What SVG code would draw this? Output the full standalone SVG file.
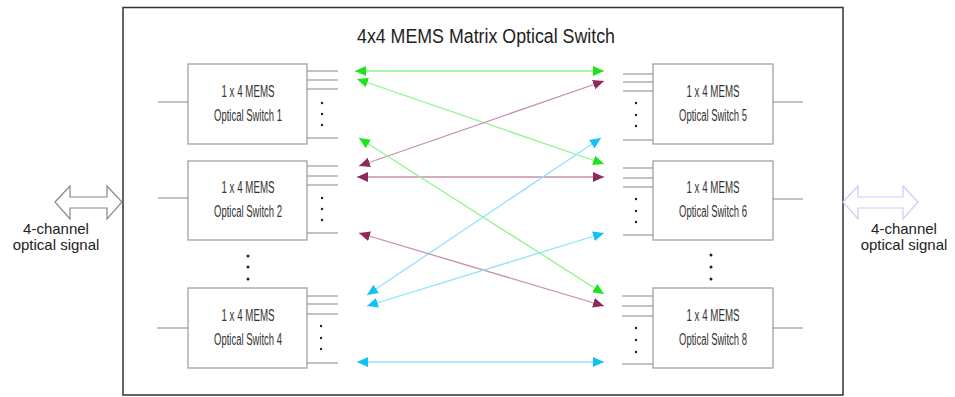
<svg xmlns="http://www.w3.org/2000/svg" width="955" height="397" viewBox="0 0 955 397">
<style>
.frame{fill:#fff;stroke:#333;stroke-width:1.5}
.box{fill:#fff;stroke:#999;stroke-width:1.2}
.ln{stroke:#888;stroke-width:1.2;fill:none}
.lbl{font-family:"Liberation Sans",Arial,sans-serif;font-size:16px;fill:#333;text-anchor:middle}
.side{font-family:"Liberation Sans",Arial,sans-serif;font-size:15px;fill:#222;text-anchor:middle}
.title{font-family:"Liberation Sans",Arial,sans-serif;font-size:20px;fill:#222;text-anchor:middle}
.dot{fill:#222}
.g{stroke:#8cf58c;stroke-width:1.3;fill:none}
.m{stroke:#c890ac;stroke-width:1.3;fill:none}
.c{stroke:#8ee3ff;stroke-width:1.3;fill:none}
</style>
<defs>
<marker id="ag" viewBox="0 0 10 9" refX="10" refY="4.5" markerWidth="11" markerHeight="10" markerUnits="userSpaceOnUse" orient="auto-start-reverse"><path d="M0,0 L10,4.5 L0,9 z" fill="#19e619"/></marker>
<marker id="am" viewBox="0 0 10 9" refX="10" refY="4.5" markerWidth="11" markerHeight="10" markerUnits="userSpaceOnUse" orient="auto-start-reverse"><path d="M0,0 L10,4.5 L0,9 z" fill="#8c2a5c"/></marker>
<marker id="ac" viewBox="0 0 10 9" refX="10" refY="4.5" markerWidth="11" markerHeight="10" markerUnits="userSpaceOnUse" orient="auto-start-reverse"><path d="M0,0 L10,4.5 L0,9 z" fill="#12c0f5"/></marker>
</defs>
<rect width="955" height="397" fill="#fff"/>
<rect class="frame" x="123" y="7.5" width="720" height="387.5"/>
<text class="title" x="486" y="43" textLength="258" lengthAdjust="spacingAndGlyphs">4x4 MEMS Matrix Optical Switch</text>

<g id="side-left">
<polygon points="55,202 70,186 70,197 107,197 107,186 122,202 107,219 107,208 70,208 70,219" fill="#fff" stroke="#888" stroke-width="1.2"/>
<text class="side" x="56" y="234">4-channel</text>
<text class="side" x="56" y="250">optical signal</text>
</g>
<g id="side-right">
<polygon points="843,202 858,186 858,197 903,197 903,186 918,202 903,219 903,208 858,208 858,219" fill="#fff" stroke="#d6c6f6" stroke-width="1.2"/>
<text class="side" x="904" y="234">4-channel</text>
<text class="side" x="904" y="250">optical signal</text>
</g>

<g id="sw1">
<rect class="box" x="188" y="64" width="119" height="80"/>
<path class="ln" d="M158,102H188M307,71H338M307,80H338M307,89H338M307,138H338"/>
<circle class="dot" cx="322" cy="103" r="1.2"/><circle class="dot" cx="322" cy="114" r="1.2"/><circle class="dot" cx="322" cy="125" r="1.2"/>
<text class="lbl" x="248" y="97" textLength="53" lengthAdjust="spacingAndGlyphs">1 x 4 MEMS</text>
<text class="lbl" x="248" y="121" textLength="68" lengthAdjust="spacingAndGlyphs">Optical Switch 1</text>
</g>
<g id="sw2">
<rect class="box" x="188" y="161" width="119" height="79"/>
<path class="ln" d="M158,198H188M307,166H338M307,176H338M307,185H338M307,233H338"/>
<circle class="dot" cx="322" cy="198" r="1.2"/><circle class="dot" cx="322" cy="209" r="1.2"/><circle class="dot" cx="322" cy="220" r="1.2"/>
<text class="lbl" x="248" y="193" textLength="53" lengthAdjust="spacingAndGlyphs">1 x 4 MEMS</text>
<text class="lbl" x="248" y="217" textLength="68" lengthAdjust="spacingAndGlyphs">Optical Switch 2</text>
</g>
<g id="dots-left">
<circle class="dot" cx="248" cy="256" r="1.5"/><circle class="dot" cx="248" cy="267" r="1.5"/><circle class="dot" cx="248" cy="279" r="1.5"/>
</g>
<g id="sw4">
<rect class="box" x="188" y="288" width="119" height="80"/>
<path class="ln" d="M157,328H188M307,296H338M307,304H338M307,314H338M307,363H338"/>
<circle class="dot" cx="321" cy="326" r="1.2"/><circle class="dot" cx="321" cy="338" r="1.2"/><circle class="dot" cx="321" cy="349" r="1.2"/>
<text class="lbl" x="248" y="321" textLength="53" lengthAdjust="spacingAndGlyphs">1 x 4 MEMS</text>
<text class="lbl" x="248" y="345" textLength="68" lengthAdjust="spacingAndGlyphs">Optical Switch 4</text>
</g>

<g id="sw5">
<rect class="box" x="653" y="64" width="120" height="80"/>
<path class="ln" d="M773,102H803M623,74H653M623,82H653M623,91H653M623,140H653"/>
<circle class="dot" cx="636" cy="103" r="1.2"/><circle class="dot" cx="636" cy="115" r="1.2"/><circle class="dot" cx="636" cy="126" r="1.2"/>
<text class="lbl" x="713" y="97" textLength="53" lengthAdjust="spacingAndGlyphs">1 x 4 MEMS</text>
<text class="lbl" x="713" y="121" textLength="68" lengthAdjust="spacingAndGlyphs">Optical Switch 5</text>
</g>
<g id="sw6">
<rect class="box" x="653" y="161" width="120" height="79"/>
<path class="ln" d="M773,199H803M623,168H653M623,178H653M623,187H653M623,235H653"/>
<circle class="dot" cx="636" cy="199" r="1.2"/><circle class="dot" cx="636" cy="211" r="1.2"/><circle class="dot" cx="636" cy="222" r="1.2"/>
<text class="lbl" x="713" y="193" textLength="53" lengthAdjust="spacingAndGlyphs">1 x 4 MEMS</text>
<text class="lbl" x="713" y="217" textLength="68" lengthAdjust="spacingAndGlyphs">Optical Switch 6</text>
</g>
<g id="dots-right">
<circle class="dot" cx="711" cy="255" r="1.5"/><circle class="dot" cx="711" cy="267" r="1.5"/><circle class="dot" cx="711" cy="279" r="1.5"/>
</g>
<g id="sw8">
<rect class="box" x="653" y="288" width="120" height="80"/>
<path class="ln" d="M773,328H803M622,296H653M622,306H653M622,316H653M622,364H653"/>
<circle class="dot" cx="636" cy="328" r="1.2"/><circle class="dot" cx="636" cy="340" r="1.2"/><circle class="dot" cx="636" cy="352" r="1.2"/>
<text class="lbl" x="713" y="321" textLength="53" lengthAdjust="spacingAndGlyphs">1 x 4 MEMS</text>
<text class="lbl" x="713" y="345" textLength="68" lengthAdjust="spacingAndGlyphs">Optical Switch 8</text>
</g>

<g id="connectors">
<line class="g" x1="355" y1="71" x2="604" y2="71" marker-start="url(#ag)" marker-end="url(#ag)"/>
<line class="g" x1="357" y1="79" x2="604" y2="164" marker-start="url(#ag)" marker-end="url(#ag)"/>
<line class="m" x1="359" y1="166" x2="604" y2="81" marker-start="url(#am)" marker-end="url(#am)"/>
<line class="m" x1="357" y1="177" x2="604" y2="177" marker-start="url(#am)" marker-end="url(#am)"/>
<line class="g" x1="359" y1="138" x2="604" y2="294" marker-start="url(#ag)" marker-end="url(#ag)"/>
<line class="c" x1="367" y1="295" x2="601" y2="138" marker-start="url(#ac)" marker-end="url(#ac)"/>
<line class="m" x1="359" y1="233" x2="604" y2="306" marker-start="url(#am)" marker-end="url(#am)"/>
<line class="c" x1="367" y1="306" x2="604" y2="233" marker-start="url(#ac)" marker-end="url(#ac)"/>
<line class="c" x1="357" y1="362" x2="604" y2="362" marker-start="url(#ac)" marker-end="url(#ac)"/>
</g>
</svg>
